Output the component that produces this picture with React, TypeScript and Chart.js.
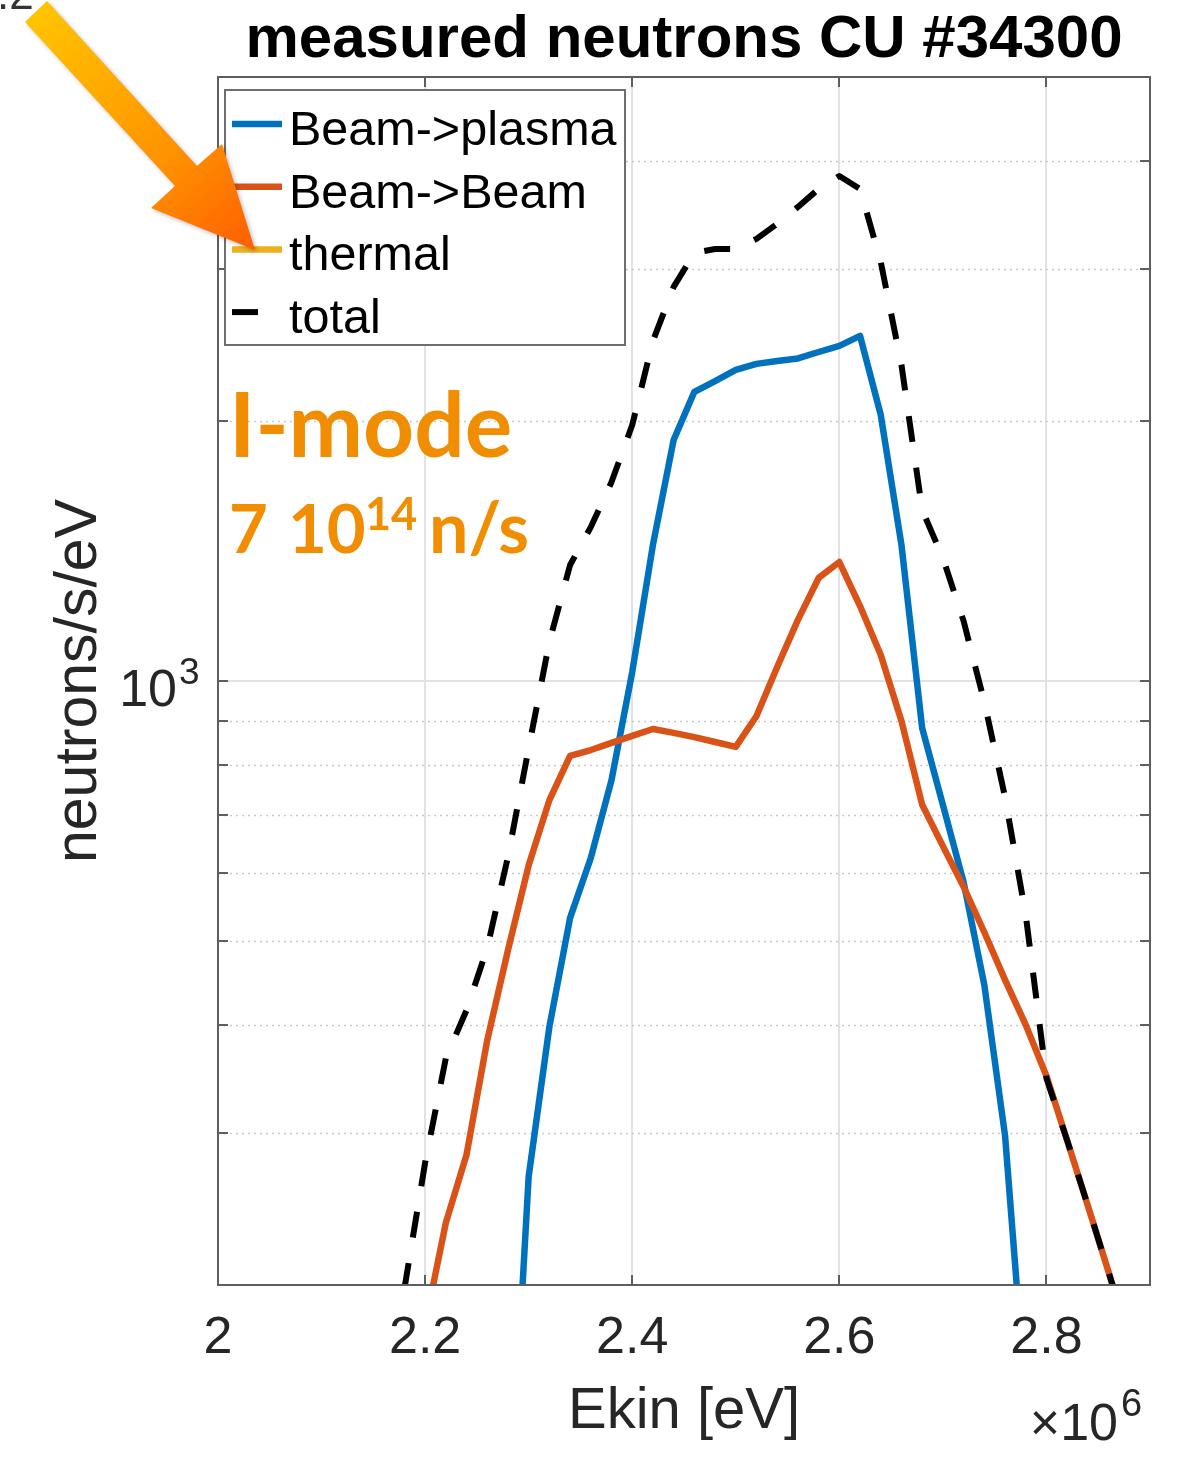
import React, { useEffect, useRef } from 'react';
import { Chart, registerables } from 'chart.js';

Chart.register(...registerables);

// ---- data (energy in units of 10^6 eV) ----
const energy = [
  2.18, 2.2, 2.22, 2.24, 2.26, 2.28, 2.3, 2.32, 2.34, 2.36, 2.38, 2.4,
  2.42, 2.44, 2.46, 2.48, 2.5, 2.52, 2.54, 2.56, 2.58, 2.6, 2.62, 2.64,
  2.66, 2.68, 2.7, 2.72, 2.74, 2.76, 2.78, 2.8, 2.82, 2.84, 2.86, 2.88,
];

const beamPlasma = [
  null, null, null, null, null, 100, 267, 398, 532, 624, 768, 1024,
  1437, 1901, 2161, 2224, 2291, 2328, 2346, 2362, 2403, 2442, 2508, 2032,
  1437, 882, 719, 585, 445, 298, 147, null, null, null, null, null,
];

const beamBeam = [
  null, 180, 236, 283, 384, 488, 612, 728, 819, 832, 848, 864,
  880, 871, 861, 850, 839, 911, 1038, 1177, 1316, 1373, 1221, 1072,
  899, 719, 644, 578, 512, 451, 400, 349, 294, 247, 207, 173,
];

const thermal: (number | null)[] = [];

const total = [
  198, 277, 366, 416, 491, 626, 836, 1110, 1362, 1507, 1699, 1978,
  2475, 2858, 3129, 3162, 3162, 3248, 3381, 3537, 3710, 3841, 3710, 3055,
  2321, 1577, 1388, 1173, 946, 734, 536, 347, 294, 247, 207, 173,
];

const seriesLabels = ['Beam->plasma', 'Beam->Beam', 'thermal', 'total'];
const seriesColors = ['#0072BD', '#D95319', '#EDB120', '#000000'];

const xTickValues = [2, 2.2, 2.4, 2.6, 2.8];
const xTickLabels = ['2', '2.2', '2.4', '2.6', '2.8'];
const yMajorTicks = [1000];
const yMinorTicks = [200, 300, 400, 500, 600, 700, 800, 900, 2000, 3000, 4000, 5000];

const titleText = 'measured neutrons CU #34300';
const xTitle = 'Ekin [eV]';
const yTitle = 'neutrons/s/eV';

const SANS = "'Liberation Sans', Arial, Helvetica, sans-serif";
const ANNOT = "Lato, 'Open Sans', sans-serif";
const ORANGE_TXT = '#F18D00';

const toPoints = (vals: (number | null)[]) =>
  vals.length ? energy.map((e, i) => ({ x: e, y: vals[i] as any })) : [];

const decorPlugin = {
  id: 'decor',
  beforeDatasetsDraw(chart: any) {
    const { ctx, chartArea: a, scales } = chart;
    const y = scales.y;
    ctx.save();
    ctx.strokeStyle = '#c9c9c9';
    ctx.lineWidth = 1.6;
    ctx.setLineDash([2, 4]);
    for (const v of yMinorTicks) {
      const py = Math.round(y.getPixelForValue(v)) + 0.5;
      if (py <= a.top + 1 || py >= a.bottom - 1) continue;
      ctx.beginPath();
      ctx.moveTo(a.left, py);
      ctx.lineTo(a.right, py);
      ctx.stroke();
    }
    ctx.restore();
  },
  afterDatasetsDraw(chart: any) {
    const { ctx, chartArea: a, scales } = chart;
    const x = scales.x;
    const y = scales.y;
    ctx.save();

    // axes box
    ctx.strokeStyle = '#5e5e5e';
    ctx.lineWidth = 2;
    ctx.setLineDash([]);
    ctx.strokeRect(a.left, a.top, a.right - a.left, a.bottom - a.top);

    // inward tick marks
    const tl = 10;
    ctx.beginPath();
    for (const v of xTickValues) {
      const px = Math.round(x.getPixelForValue(v));
      ctx.moveTo(px, a.bottom);
      ctx.lineTo(px, a.bottom - tl);
      ctx.moveTo(px, a.top);
      ctx.lineTo(px, a.top + tl);
    }
    for (const v of [...yMajorTicks, ...yMinorTicks]) {
      const py = Math.round(y.getPixelForValue(v));
      ctx.moveTo(a.left, py);
      ctx.lineTo(a.left + tl, py);
      ctx.moveTo(a.right, py);
      ctx.lineTo(a.right - tl, py);
    }
    ctx.stroke();

    // y tick label 10^3
    ctx.fillStyle = '#262626';
    const p1000 = y.getPixelForValue(1000);
    ctx.font = `52px ${SANS}`;
    ctx.textAlign = 'right';
    ctx.textBaseline = 'alphabetic';
    ctx.fillText('10', a.left - 41, p1000 + 25);
    ctx.font = `37px ${SANS}`;
    ctx.textAlign = 'left';
    ctx.fillText('3', a.left - 39, p1000 + 3);

    // x exponent label
    ctx.font = `52px ${SANS}`;
    ctx.textAlign = 'right';
    ctx.fillText('\u00d710', a.right - 32, a.bottom + 155);
    ctx.font = `38px ${SANS}`;
    ctx.textAlign = 'left';
    ctx.fillText('6', a.right - 29, a.bottom + 131);

    // title
    ctx.fillStyle = '#000';
    ctx.font = `bold 60px ${SANS}`;
    ctx.textAlign = 'center';
    ctx.fillText(titleText, (a.left + a.right) / 2, 57);

    // legend
    const lx = a.left + 7;
    const ly = a.top + 13;
    const lw = 400;
    const lh = 255;
    ctx.fillStyle = '#fff';
    ctx.fillRect(lx, ly, lw, lh);
    ctx.strokeStyle = '#6e6e6e';
    ctx.lineWidth = 2;
    ctx.strokeRect(lx, ly, lw, lh);
    const dsets = chart.data.datasets;
    ctx.font = `48.5px ${SANS}`;
    ctx.textAlign = 'left';
    for (let i = 0; i < dsets.length; i++) {
      const ds = dsets[i];
      const rowY = ly + 34 + i * 62.7;
      ctx.strokeStyle = ds.borderColor;
      ctx.lineWidth = ds.borderWidth;
      ctx.setLineDash(ds.borderDash || []);
      ctx.lineDashOffset = 0;
      ctx.beginPath();
      ctx.moveTo(lx + 7, rowY);
      ctx.lineTo(lx + 57, rowY);
      ctx.stroke();
      ctx.setLineDash([]);
      ctx.fillStyle = '#000';
      ctx.fillText(ds.label, lx + 64, rowY + 21);
    }

    // annotations
    ctx.fillStyle = ORANGE_TXT;
    ctx.font = `bold 89px ${ANNOT}`;
    ctx.fillText('I-mode', 229, 457);
    ctx.font = `bold 67px ${ANNOT}`;
    ctx.fillText('7', 229, 553);
    ctx.fillText('10', 288, 553);
    ctx.font = `bold 45px ${ANNOT}`;
    ctx.fillText('14', 365, 530);
    ctx.font = `bold 70px ${ANNOT}`;
    ctx.fillText('n/s', 429, 553);

    // cut-off fragment at top-left corner
    ctx.fillStyle = '#333';
    ctx.font = `44px ${SANS}`;
    ctx.fillText('.2', -3, 9);

    // arrow
    const grad = ctx.createLinearGradient(36, 13, 255, 250);
    grad.addColorStop(0, '#FFC400');
    grad.addColorStop(0.6, '#FF9300');
    grad.addColorStop(1, '#FF5E00');
    ctx.fillStyle = grad;
    ctx.shadowColor = 'rgba(0,0,0,0.25)';
    ctx.shadowBlur = 4;
    ctx.shadowOffsetX = 2;
    ctx.shadowOffsetY = 2;
    ctx.beginPath();
    ctx.moveTo(47, 1);
    ctx.lineTo(197, 166);
    ctx.lineTo(222, 144);
    ctx.lineTo(255, 250);
    ctx.lineTo(151, 208);
    ctx.lineTo(175, 186);
    ctx.lineTo(25, 22);
    ctx.closePath();
    ctx.fill();

    ctx.restore();
  },
};

export default function App() {
  const ref = useRef<HTMLCanvasElement>(null);

  useEffect(() => {
    const canvas = ref.current;
    if (!canvas) return;
    const data = {
      datasets: [
        {
          label: seriesLabels[0],
          data: toPoints(beamPlasma),
          borderColor: seriesColors[0],
          borderWidth: 6.5,
          order: 3,
        },
        {
          label: seriesLabels[1],
          data: toPoints(beamBeam),
          borderColor: seriesColors[1],
          borderWidth: 6.5,
          order: 2,
        },
        {
          label: seriesLabels[2],
          data: toPoints(thermal),
          borderColor: seriesColors[2],
          borderWidth: 6.5,
          order: 1,
        },
        {
          label: seriesLabels[3],
          data: toPoints(total),
          borderColor: seriesColors[3],
          borderWidth: 6,
          borderDash: [26, 26],
          order: 0,
        },
      ].map((d) => ({
        ...d,
        pointRadius: 0,
        tension: 0,
        fill: false,
        clip: 0,
        borderJoinStyle: 'round' as const,
        borderCapStyle: 'butt' as const,
      })),
    };

    const chart = new Chart(canvas, {
      type: 'line',
      data: data as any,
      options: {
        responsive: false,
        maintainAspectRatio: false,
        animation: false,
        events: [],
        layout: { padding: { top: 77, right: 28, left: 0, bottom: 0 } },
        plugins: {
          legend: { display: false },
          tooltip: { enabled: false },
          title: { display: false },
        },
        scales: {
          x: {
            type: 'linear',
            position: 'bottom',
            min: 2,
            max: 2.9,
            afterBuildTicks: (s: any) => {
              s.ticks = xTickValues.map((v) => ({ value: v }));
            },
            afterFit: (s: any) => {
              s.height = 185;
            },
            border: { display: false },
            grid: { color: '#e2e2e2', lineWidth: 2, drawTicks: false },
            ticks: {
              autoSkip: false,
              maxRotation: 0,
              padding: 22,
              color: '#262626',
              font: { family: SANS, size: 52 },
              callback: (_v: any, i: number) => xTickLabels[i],
            },
            title: {
              display: true,
              text: xTitle,
              color: '#262626',
              font: { family: SANS, size: 58 },
              padding: { top: 0, bottom: 23 },
            },
          },
          y: {
            type: 'logarithmic',
            position: 'left',
            min: 200,
            max: 5000,
            afterBuildTicks: (s: any) => {
              s.ticks = [...yMinorTicks, ...yMajorTicks]
                .sort((p, q) => p - q)
                .map((v) => ({ value: v, major: yMajorTicks.includes(v) }));
            },
            afterFit: (s: any) => {
              s.width = 218;
            },
            border: { display: false },
            grid: {
              drawTicks: false,
              lineWidth: 2,
              color: (c: any) =>
                c.tick && yMajorTicks.includes(c.tick.value) ? '#e2e2e2' : 'rgba(0,0,0,0)',
            },
            ticks: { display: false, autoSkip: false },
            title: {
              display: true,
              text: yTitle,
              color: '#262626',
              font: { family: SANS, size: 59 },
              padding: { top: 44, bottom: 0 },
            },
          },
        },
      },
      plugins: [decorPlugin],
    } as any);

    return () => chart.destroy();
  }, []);

  return (
    <div style={{ position: 'absolute', left: 0, top: 0, width: 1178, height: 1470, background: '#fff' }}>
      <canvas ref={ref} width={1178} height={1470} style={{ display: 'block', width: 1178, height: 1470 }} />
    </div>
  );
}
